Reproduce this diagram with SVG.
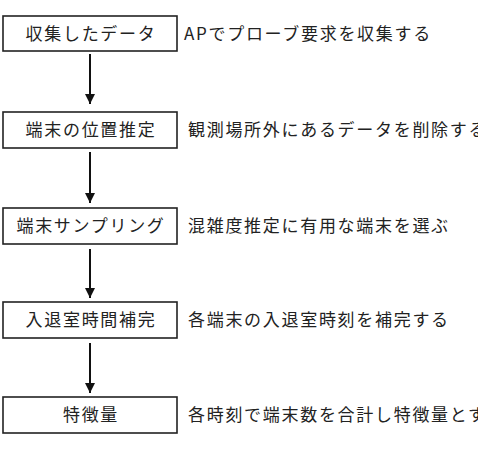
<svg xmlns="http://www.w3.org/2000/svg" width="478" height="453" viewBox="0 0 478 453">
<style>
text{font-family:"Noto Sans CJK JP","Noto Sans",sans-serif;font-size:17px;fill:#222;letter-spacing:1.7px}
.box{fill:#fff;stroke:#222;stroke-width:1.6}
.lbl{text-anchor:middle}
.conn{stroke:#111;stroke-width:2;fill:none}
</style>
<defs>
<marker id="ah" viewBox="0 0 10 10" refX="10" refY="5" markerWidth="5" markerHeight="5" orient="auto" markerUnits="strokeWidth">
<path d="M0,0L10,5L0,10z" fill="#111"/>
</marker>
</defs>
<rect width="478" height="453" fill="#fff"/>
<g id="connectors">
<line class="conn" x1="90" y1="54" x2="90" y2="104" marker-end="url(#ah)"/>
<line class="conn" x1="90" y1="152" x2="90" y2="203" marker-end="url(#ah)"/>
<line class="conn" x1="90" y1="249" x2="90" y2="298" marker-end="url(#ah)"/>
<line class="conn" x1="90" y1="343" x2="90" y2="393" marker-end="url(#ah)"/>
</g>
<g id="n1">
<rect class="box" x="3" y="16" width="174" height="35"/>
<text class="lbl" x="91" y="39.5">収集したデータ</text>
<text x="184" y="39.5">APでプローブ要求を収集する</text>
</g>
<g id="n2">
<rect class="box" x="3" y="112" width="174" height="36"/>
<text class="lbl" x="91" y="136">端末の位置推定</text>
<text x="188" y="136">観測場所外にあるデータを削除する</text>
</g>
<g id="n3">
<rect class="box" x="3" y="208" width="174" height="36"/>
<text class="lbl" x="91" y="232">端末サンプリング</text>
<text x="188" y="232">混雑度推定に有用な端末を選ぶ</text>
</g>
<g id="n4">
<rect class="box" x="3" y="302" width="174" height="36"/>
<text class="lbl" x="91" y="326">入退室時間補完</text>
<text x="188" y="326">各端末の入退室時刻を補完する</text>
</g>
<g id="n5">
<rect class="box" x="3" y="397" width="174" height="36"/>
<text class="lbl" x="91" y="421">特徴量</text>
<text x="188" y="421">各時刻で端末数を合計し特徴量とする</text>
</g>
</svg>
